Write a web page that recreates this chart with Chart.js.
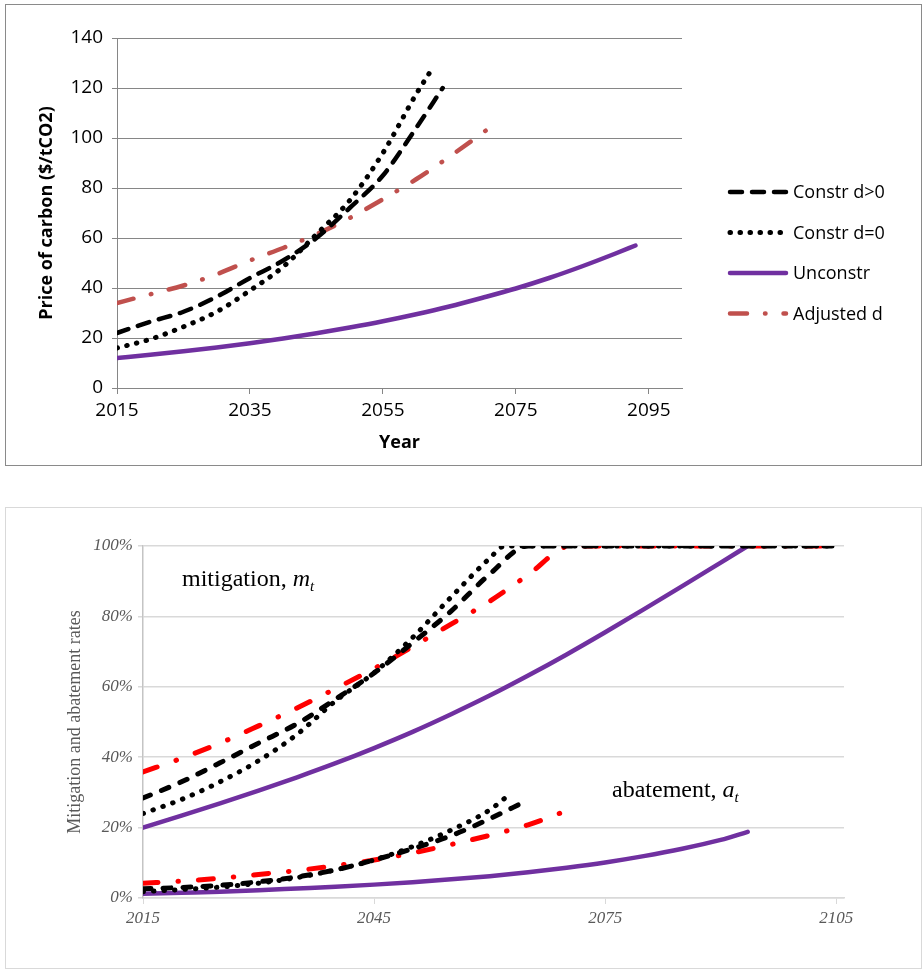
<!DOCTYPE html>
<html>
<head>
<title>Carbon price and mitigation rates</title>
<script src="https://cdn.jsdelivr.net/npm/chart.js"></script>
<style>
  body { margin: 0; background: #fff; }
  .box { position: absolute; box-sizing: border-box; background: #fff; }
  #box1 { left: 5px; top: 4px; width: 917px; height: 462px; border: 1px solid #8a8a8a; }
  #box2 { left: 5px; top: 507px; width: 917px; height: 462px; border: 1px solid #d9d9d9; }
  canvas { display: block; }
</style>
</head>
<body>
<div id="box1" class="box"><canvas id="chart1" width="915" height="460"></canvas></div>
<div id="box2" class="box"><canvas id="chart2" width="915" height="460"></canvas></div>
<script>
// ---- top chart: price of carbon ($/tCO2) ----
const seriesNames = ['Constr d>0', 'Constr d=0', 'Unconstr', 'Adjusted d'];

const priceYearsPos = [2015, 2020, 2025, 2030, 2035, 2040, 2045, 2050, 2055, 2060, 2064];
const pricePos      = [22, 26.5, 30.5, 36.5, 44, 51, 60, 72, 85, 104, 120];

const priceYearsZero = [2015, 2020, 2025, 2030, 2035, 2040, 2045, 2050, 2055, 2060, 2062];
const priceZero      = [16, 19.5, 24.5, 30.5, 39, 48.5, 61.5, 75, 94, 117.5, 126];

const priceYearsUnc = [2015, 2020, 2025, 2030, 2035, 2040, 2045, 2050, 2055, 2060, 2065, 2070, 2075, 2080, 2085, 2090, 2093];
const priceUnc      = [12, 13.3, 14.7, 16.2, 17.9, 19.8, 21.9, 24.2, 26.7, 29.5, 32.6, 36.1, 39.8, 44, 48.7, 53.8, 57];

const priceYearsAdj = [2015, 2020, 2025, 2030, 2035, 2040, 2045, 2050, 2055, 2060, 2065, 2070.5];
const priceAdj      = [34, 37.5, 41, 45.5, 51, 56, 61.5, 68, 75.5, 83.5, 92.5, 103];

const priceXTicks = [2015, 2035, 2055, 2075, 2095];

// ---- bottom chart: mitigation and abatement rates (%) ----
const mitYearsPos = [2015, 2020, 2025, 2030, 2035, 2040, 2045, 2050, 2055, 2060, 2065, 2070, 2075, 2080, 2085, 2090, 2095, 2100, 2105];
const mitPos      = [28.4, 33, 38.4, 44, 49.5, 56.5, 63.9, 72.5, 81.5, 92, 100, 100, 100, 100, 100, 100, 100, 100, 100];

const mitYearsZero = [2015, 2020, 2025, 2030, 2035, 2040, 2045, 2050, 2055, 2060, 2062, 2065, 2070, 2075, 2080, 2085, 2090, 2095, 2100, 2105];
const mitZero      = [24, 28, 33, 39, 46.5, 56, 64, 74, 85.5, 96.5, 100, 100, 100, 100, 100, 100, 100, 100, 100, 100];

const mitYearsUnc = [2015, 2020, 2025, 2030, 2035, 2040, 2045, 2050, 2055, 2060, 2065, 2070, 2075, 2080, 2085, 2090, 2093.5];
const mitUnc      = [20, 23.4, 26.9, 30.5, 34.3, 38.3, 42.6, 47.2, 52.2, 57.5, 63.2, 69.2, 75.5, 82, 88.6, 95.3, 100];

const mitYearsAdj = [2015, 2020, 2025, 2030, 2035, 2040, 2045, 2050, 2055, 2060, 2065, 2070.5, 2075, 2080, 2085, 2090, 2095, 2100, 2105];
const mitAdj      = [35.8, 39.7, 44, 48.9, 54, 59.5, 65.2, 71.4, 77.8, 84.3, 91.8, 100, 100, 100, 100, 100, 100, 100, 100];

const abYearsPos = [2015, 2020, 2025, 2030, 2035, 2040, 2045, 2050, 2055, 2060, 2064.5];
const abPos      = [2.6, 3, 3.6, 4.6, 6, 8, 10.8, 14, 17.7, 22.5, 27.3];

const abYearsZero = [2015, 2020, 2025, 2030, 2035, 2040, 2045, 2050, 2055, 2060, 2062];
const abZero      = [1.8, 2.4, 3.1, 4.2, 5.8, 8, 10.8, 14.6, 19.3, 25, 28.4];

const abYearsUnc = [2015, 2020, 2025, 2030, 2035, 2040, 2045, 2050, 2055, 2060, 2065, 2070, 2075, 2080, 2085, 2090, 2093.5];
const abUnc      = [1.2, 1.5, 1.8, 2.2, 2.7, 3.2, 3.8, 4.5, 5.3, 6.2, 7.3, 8.6, 10.1, 11.9, 14, 16.5, 18.8];

const abYearsAdj = [2015, 2020, 2025, 2030, 2035, 2040, 2045, 2050, 2055, 2060, 2065, 2070.5];
const abAdj      = [4.2, 4.8, 5.6, 6.7, 7.8, 9.2, 10.8, 12.8, 15.2, 17.8, 20.8, 25.2];

const rateXTicks = [2015, 2045, 2075, 2105];

function pts(xs, ys) {
  return xs.map((x, i) => ({ x: x, y: ys[i] }));
}

const lineBase = { pointRadius: 0, fill: false, cubicInterpolationMode: 'monotone' };

// legend on the right of the top chart, drawn from the dataset styles
const sideLegend = {
  id: 'sideLegend',
  afterDraw(chart) {
    const c = chart.ctx;
    c.save();
    c.font = '18px "Open Sans"';
    c.textBaseline = 'middle';
    chart.data.datasets.forEach((ds, i) => {
      const y = 187 + i * 40.5;
      c.beginPath();
      c.setLineDash(ds.borderDash || []);
      c.lineCap = ds.borderCapStyle || 'butt';
      c.lineWidth = ds.borderWidth;
      c.strokeStyle = ds.borderColor;
      c.moveTo(724, y);
      c.lineTo(780, y);
      c.stroke();
      c.setLineDash([]);
      c.fillStyle = '#000';
      c.fillText(ds.label, 787, y + 1);
    });
    c.restore();
  }
};

const dark = '#000000';
const purple = '#7030A0';
const brick = '#C0504D';

new Chart(document.getElementById('chart1'), {
  type: 'line',
  data: {
    datasets: [
      Object.assign({ label: seriesNames[0], data: pts(priceYearsPos, pricePos), borderColor: dark, borderWidth: 4.5, borderDash: [12, 10], borderCapStyle: 'round' }, lineBase),
      Object.assign({ label: seriesNames[1], data: pts(priceYearsZero, priceZero), borderColor: dark, borderWidth: 5, borderDash: [0.5, 9.5], borderCapStyle: 'round' }, lineBase),
      Object.assign({ label: seriesNames[2], data: pts(priceYearsUnc, priceUnc), borderColor: purple, borderWidth: 4.5, borderCapStyle: 'round' }, lineBase),
      Object.assign({ label: seriesNames[3], data: pts(priceYearsAdj, priceAdj), borderColor: brick, borderWidth: 4.5, borderDash: [17, 18, 0.5, 18], borderCapStyle: 'round' }, lineBase)
    ]
  },
  options: {
    responsive: false,
    animation: false,
    layout: { padding: { left: 0, top: 33, right: 239, bottom: 0 } },
    scales: {
      x: {
        type: 'linear', min: 2015, max: 2100,
        afterBuildTicks: s => { s.ticks = priceXTicks.map(v => ({ value: v })); },
        afterFit: s => { s.height = 77; },
        grid: { drawOnChartArea: false, drawTicks: true, tickLength: 6, color: '#868686' },
        border: { color: '#868686' },
        ticks: { color: '#000', font: { family: 'Open Sans', size: 19 }, padding: 5, maxRotation: 0, callback: v => String(v) },
        title: { display: true, text: 'Year', color: '#000', font: { family: 'Open Sans', size: 18, weight: 'bold' }, padding: { top: 0, bottom: 11 } }
      },
      y: {
        min: 0, max: 140,
        afterFit: s => { s.width = 111; },
        grid: { color: '#868686', tickLength: 5 },
        border: { color: '#868686' },
        ticks: { stepSize: 20, color: '#000', font: { family: 'Open Sans', size: 19 }, padding: 9 },
        title: { display: true, text: 'Price of carbon ($/tCO2)', color: '#000', font: { family: 'Open Sans', size: 18, weight: 'bold' }, padding: { top: 30, bottom: 0 } }
      }
    },
    plugins: { legend: { display: false }, tooltip: { enabled: false } }
  },
  plugins: [sideLegend]
});

// in-chart labels of the bottom chart
function noteLabel(c, word, sym, x, y) {
  c.font = '24px "Liberation Serif"';
  c.fillText(word, x, y);
  const w = c.measureText(word).width;
  c.font = 'italic 24px "Liberation Serif"';
  c.fillText(sym, x + w, y);
  const w2 = c.measureText(sym).width;
  c.font = 'italic 15px "Liberation Serif"';
  c.fillText('t', x + w + w2, y + 5);
}

const rateNotes = {
  id: 'rateNotes',
  afterDraw(chart) {
    const c = chart.ctx;
    c.save();
    c.fillStyle = '#000';
    c.textBaseline = 'alphabetic';
    noteLabel(c, 'mitigation, ', 'm', 176, 78);
    noteLabel(c, 'abatement, ', 'a', 606, 289);
    c.restore();
  }
};

const red = '#FF0000';
const serifTick = { family: 'Liberation Serif', size: 17, style: 'italic' };

new Chart(document.getElementById('chart2'), {
  type: 'line',
  data: {
    datasets: [
      Object.assign({ label: 'mitigation ' + seriesNames[0], data: pts(mitYearsPos, mitPos), borderColor: dark, borderWidth: 5, borderDash: [8, 12], borderCapStyle: 'round' }, lineBase),
      Object.assign({ label: 'mitigation ' + seriesNames[1], data: pts(mitYearsZero, mitZero), borderColor: dark, borderWidth: 5, borderDash: [0.5, 10], borderCapStyle: 'round' }, lineBase),
      Object.assign({ label: 'mitigation ' + seriesNames[2], data: pts(mitYearsUnc, mitUnc), borderColor: purple, borderWidth: 4.5, borderCapStyle: 'round' }, lineBase),
      Object.assign({ label: 'mitigation ' + seriesNames[3], data: pts(mitYearsAdj, mitAdj), borderColor: red, borderWidth: 5, borderDash: [15, 20, 0.5, 20], borderCapStyle: 'round' }, lineBase),
      Object.assign({ label: 'abatement ' + seriesNames[0], data: pts(abYearsPos, abPos), borderColor: dark, borderWidth: 5, borderDash: [8, 12], borderCapStyle: 'round' }, lineBase),
      Object.assign({ label: 'abatement ' + seriesNames[1], data: pts(abYearsZero, abZero), borderColor: dark, borderWidth: 5, borderDash: [0.5, 10], borderCapStyle: 'round' }, lineBase),
      Object.assign({ label: 'abatement ' + seriesNames[2], data: pts(abYearsUnc, abUnc), borderColor: purple, borderWidth: 4.5, borderCapStyle: 'round' }, lineBase),
      Object.assign({ label: 'abatement ' + seriesNames[3], data: pts(abYearsAdj, abAdj), borderColor: red, borderWidth: 5, borderDash: [15, 20, 0.5, 20], borderCapStyle: 'round' }, lineBase)
    ]
  },
  options: {
    responsive: false,
    animation: false,
    layout: { padding: { left: 0, top: 38, right: 77, bottom: 0 } },
    scales: {
      x: {
        type: 'linear', min: 2015, max: 2106,
        afterBuildTicks: s => { s.ticks = rateXTicks.map(v => ({ value: v })); },
        afterFit: s => { s.height = 70; },
        grid: { drawOnChartArea: false, drawTicks: true, tickLength: 6, color: '#d9d9d9' },
        border: { color: '#d9d9d9', width: 1.5 },
        ticks: { color: '#595959', font: serifTick, padding: 4, maxRotation: 0, callback: v => String(v) }
      },
      y: {
        min: 0, max: 100,
        afterFit: s => { s.width = 137; },
        grid: { color: '#d9d9d9', lineWidth: 1.5, tickLength: 5 },
        border: { color: '#c4c4c4', width: 1.5 },
        ticks: { stepSize: 20, color: '#595959', font: serifTick, padding: 5, callback: v => v + '%' },
        title: { display: true, text: 'Mitigation and abatement rates', color: '#595959', font: { family: 'Liberation Serif', size: 18 }, padding: { top: 58, bottom: 0 } }
      }
    },
    plugins: { legend: { display: false }, tooltip: { enabled: false } }
  },
  plugins: [rateNotes]
});
</script>
</body>
</html>
